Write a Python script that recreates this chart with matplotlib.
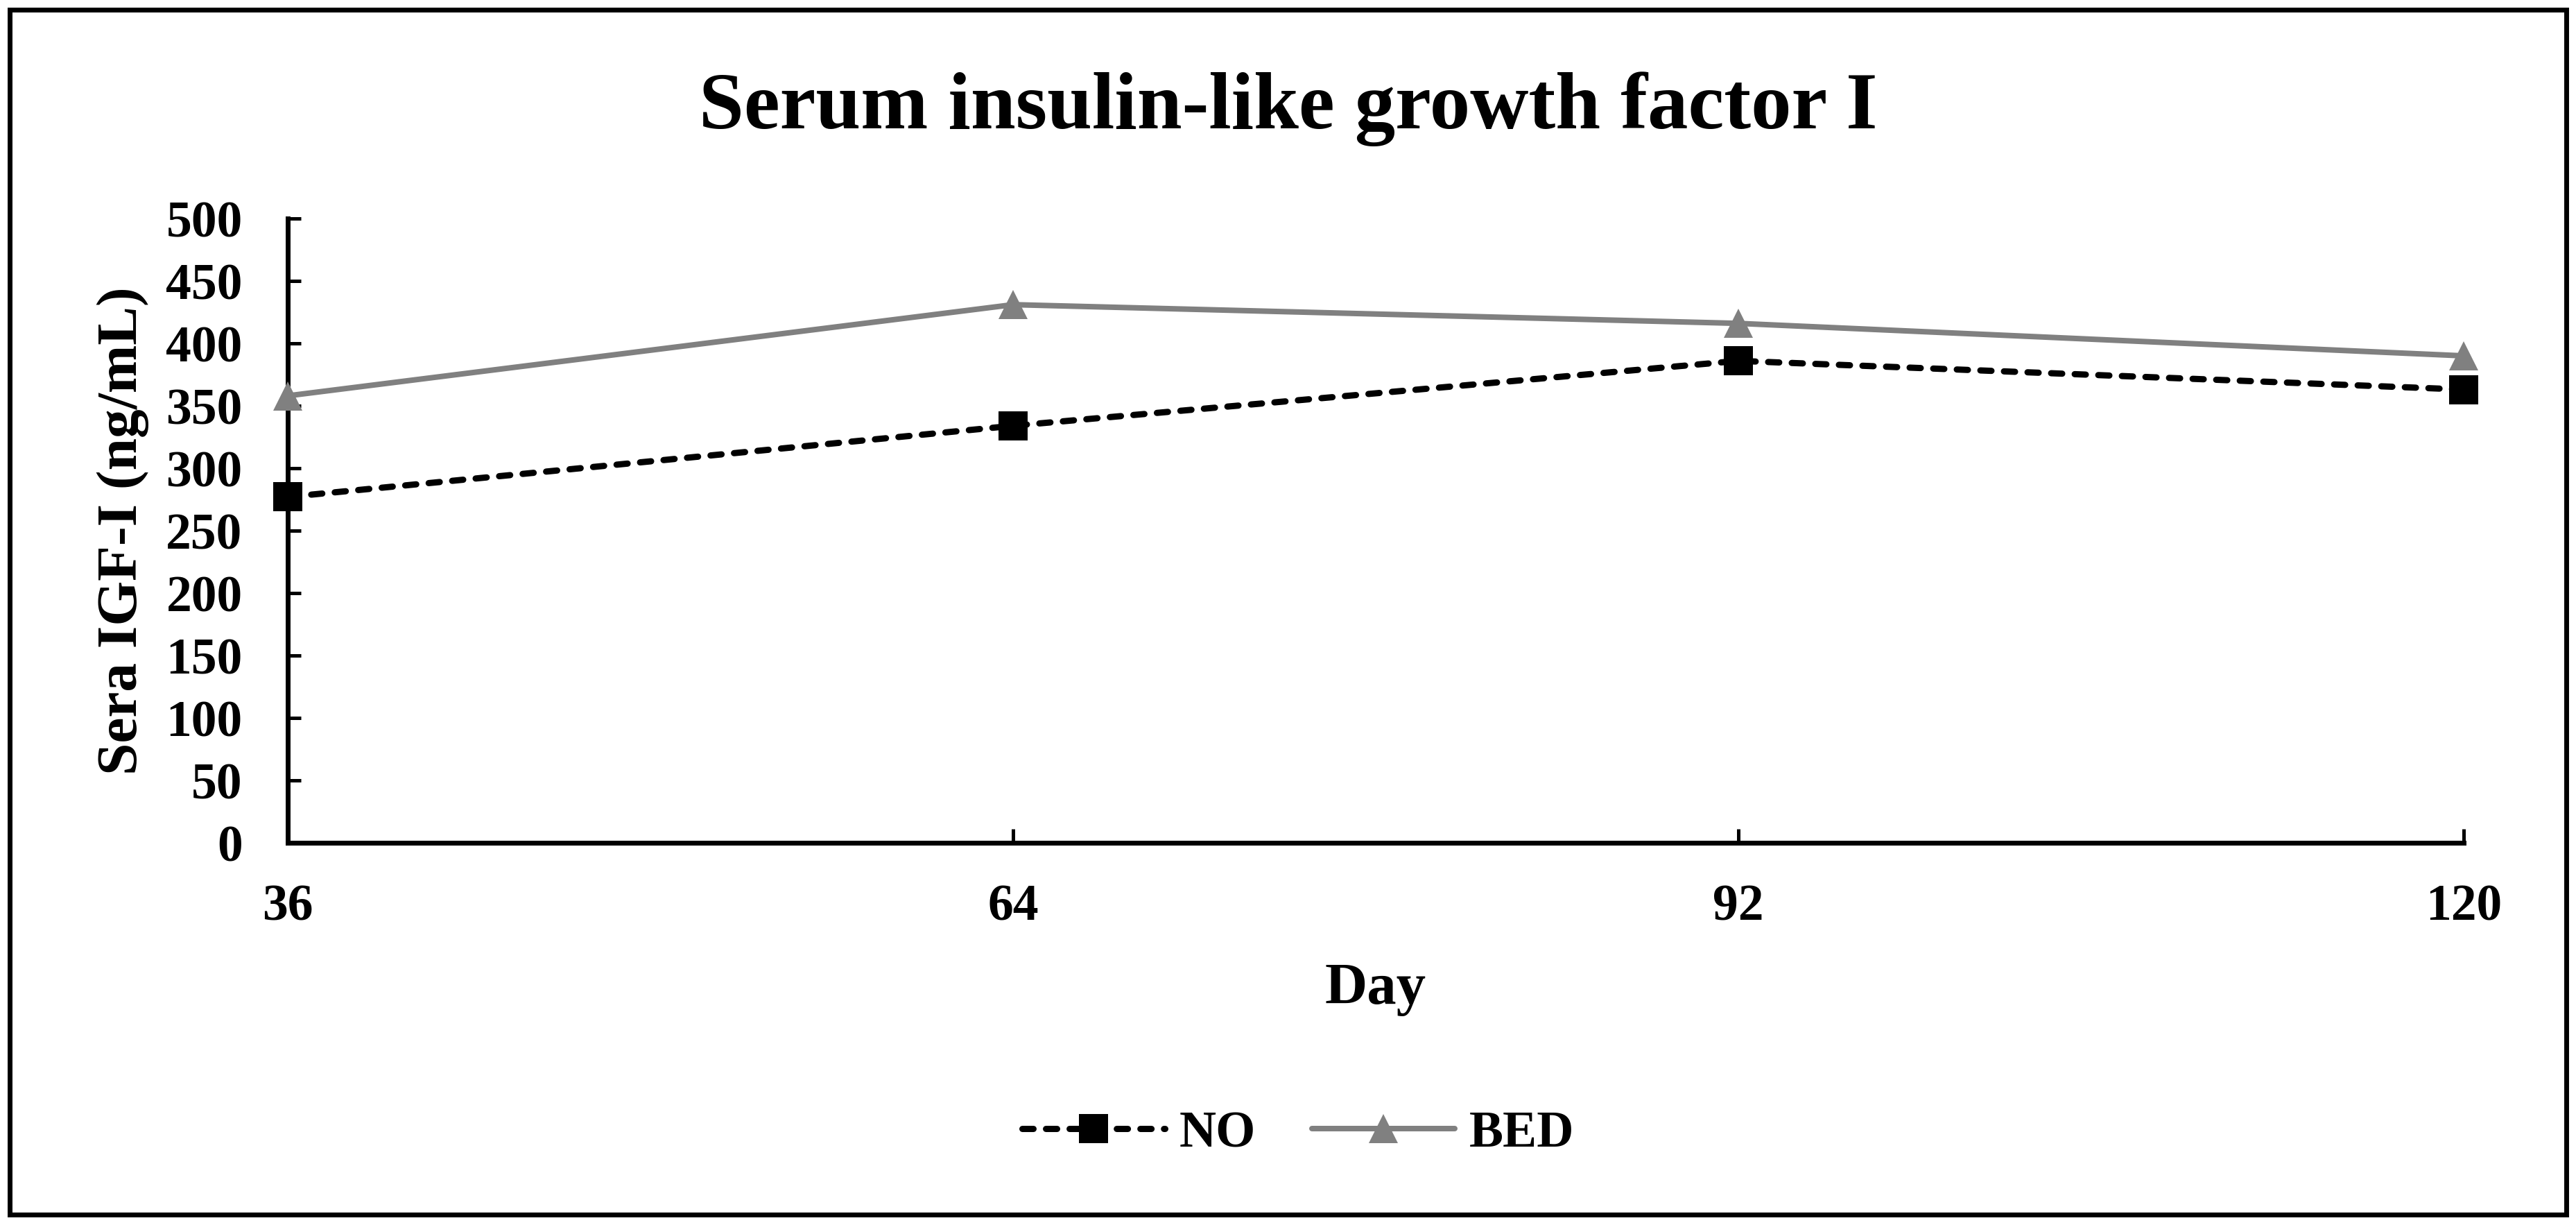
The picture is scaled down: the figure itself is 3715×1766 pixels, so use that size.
import numpy as np
import matplotlib.pyplot as plt
from matplotlib.patches import Rectangle

plt.rcParams['font.family'] = ['Liberation Serif', 'DejaVu Serif']
plt.rcParams['font.weight'] = 'bold'

days = [36, 64, 92, 120]
no_igf = [277, 334, 386, 363]
bed_igf = [358, 431, 416, 390]
y_ticks = np.arange(0, 501, 50)

title = 'Serum insulin-like growth factor I'
x_label = 'Day'
y_label = 'Sera IGF-I (ng/mL)'

W, H = 3715, 1766
DPI = 100
fig = plt.figure(figsize=(W / DPI, H / DPI), dpi=DPI)

# axes box in pixels: left 415, right 3553, top 315, bottom 1215
ax = fig.add_axes([415 / W, 1 - 1215 / H, (3553 - 415) / W, (1215 - 315) / H])

ax.plot(days, no_igf, color='black', linewidth=6.5, linestyle=(0, (1.77, 2.0)),
        dash_capstyle='round', marker='s', markersize=30,
        markerfacecolor='black', markeredgecolor='black', markeredgewidth=0,
        label='NO', clip_on=False, zorder=3)
ax.plot(days, bed_igf, color='#808080', linewidth=5.75, solid_capstyle='round',
        marker='^', markersize=30, markerfacecolor='#808080',
        markeredgecolor='#808080', markeredgewidth=0,
        label='BED', clip_on=False, zorder=3)

ax.set_xlim(days[0], days[-1])
ax.set_ylim(0, 500)
ax.set_xticks(days)
ax.set_yticks(y_ticks)

for side in ['top', 'right']:
    ax.spines[side].set_visible(False)
for side in ['left', 'bottom']:
    ax.spines[side].set_linewidth(5)
    ax.spines[side].set_color('black')

ax.tick_params(axis='y', direction='in', length=13.7, width=3.6,
               labelsize=53, pad=47)
ax.tick_params(axis='x', direction='in', length=14.4, width=3.6,
               labelsize=53, pad=43)
for lbl in ax.get_xticklabels() + ax.get_yticklabels():
    lbl.set_fontweight('bold')

ax.set_xlabel(x_label, fontsize=61, fontweight='bold', va='baseline')
ax.xaxis.set_label_coords(0.5, -(1447 - 1215) / 900)
ax.set_ylabel(y_label, fontsize=60, fontweight='bold', va='baseline')
ax.yaxis.set_label_coords(-(415 - 197) / (3553 - 415), 0.5)

fig.text(0.5, 1 - 185 / H, title, ha='center', va='baseline',
         fontsize=84, fontweight='bold')

leg = fig.legend(loc='center', bbox_to_anchor=(1872 / W, 1 - 1635 / H),
                 ncol=2, frameon=False, fontsize=53, handlelength=2.8,
                 handletextpad=0.28, columnspacing=1.1, borderpad=0)
for t in leg.get_texts():
    t.set_fontweight('bold')

# outer chart border
fig.patches.append(Rectangle((14 / W, 1 - 1751 / H), (3701 - 14) / W,
                             (1751 - 14) / H, transform=fig.transFigure,
                             fill=False, edgecolor='black', linewidth=5))

fig.savefig('out.png', dpi=DPI, facecolor='white')
